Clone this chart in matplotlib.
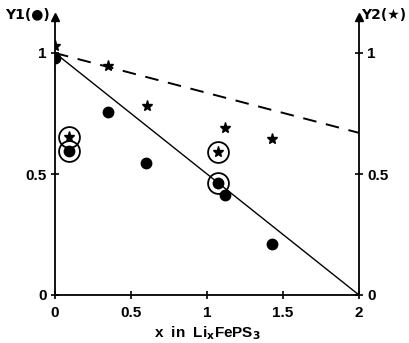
import matplotlib.pyplot as plt

plt.rcParams['font.family'] = ['Liberation Sans', 'DejaVu Sans']

# Y1 (filled dots)
x_dots = [0.0, 0.09, 0.35, 0.60, 1.07, 1.12, 1.43]
y_dots = [0.98, 0.595, 0.755, 0.545, 0.463, 0.413, 0.21]

# Y2 (stars)
x_stars = [0.0, 0.09, 0.35, 0.605, 1.07, 1.12, 1.43]
y_stars = [1.03, 0.652, 0.945, 0.78, 0.59, 0.69, 0.645]

# circled points
x_ring = [0.09, 0.09, 1.07, 1.07]
y_ring = [0.595, 0.652, 0.463, 0.59]

# guide lines
solid_x = [0, 2]
solid_y = [1, 0]
dash_x = [0, 2]
dash_y = [1, 0.67]

ticks_x = [0, 0.5, 1, 1.5, 2]
ticklabels_x = ["0", "0.5", "1", "1.5", "2"]
ticks_y = [0, 0.5, 1]
ticklabels_y = ["0", "0.5", "1"]

fig = plt.figure(figsize=(4.1, 3.43), dpi=100)
ax = fig.add_axes([55 / 410, 48 / 343, 304 / 410, 1.15 * 242 / 343])
ax.set_xlim(0, 2)
ax.set_ylim(0, 1.15)

ax.plot(solid_x, solid_y, color="black", lw=1.0)
ax.plot(dash_x, dash_y, color="black", lw=1.4, dashes=(7, 5))
ax.plot(x_dots, y_dots, "o", color="black", ms=7.5, ls="none")
ax.plot(x_stars, y_stars, "*", color="black", ms=8, ls="none")
ax.plot(x_ring, y_ring, "o", mfc="none", mec="black", mew=1.3, ms=15, ls="none")

ax.spines["top"].set_visible(False)
for s in ["left", "right", "bottom"]:
    ax.spines[s].set_linewidth(1.3)

ax.set_xticks(ticks_x)
ax.set_xticklabels(ticklabels_x)
ax.set_yticks(ticks_y)
ax.set_yticklabels(ticklabels_y)
ax.tick_params(axis="both", direction="inout", length=6, width=1.2,
               labelsize=11, pad=3)
ax.tick_params(axis="x", pad=5)
ax.tick_params(axis="y", right=True, labelright=True, left=True, labelleft=True)
for lab in ax.get_xticklabels() + ax.get_yticklabels():
    lab.set_fontweight("bold")

# arrows on top of both vertical axes
ax.plot([0], [1.15], marker="^", color="black", ms=6, clip_on=False)
ax.plot([2], [1.15], marker="^", color="black", ms=6, clip_on=False)

fig.text(27 / 410, 1 - 15 / 343, "Y1(●)", ha="center", va="center",
         fontsize=10, fontweight="bold", family=["DejaVu Sans"])
fig.text(384 / 410, 1 - 15 / 343, "Y2(★)", ha="center", va="center",
         fontsize=10, fontweight="bold", family=["DejaVu Sans"])
ax.set_xlabel(r"x  in  Li$_\mathbf{x}$FePS$_\mathbf{3}$", fontsize=11,
              fontweight="bold", labelpad=3)

fig.savefig("out.png", dpi=100)
